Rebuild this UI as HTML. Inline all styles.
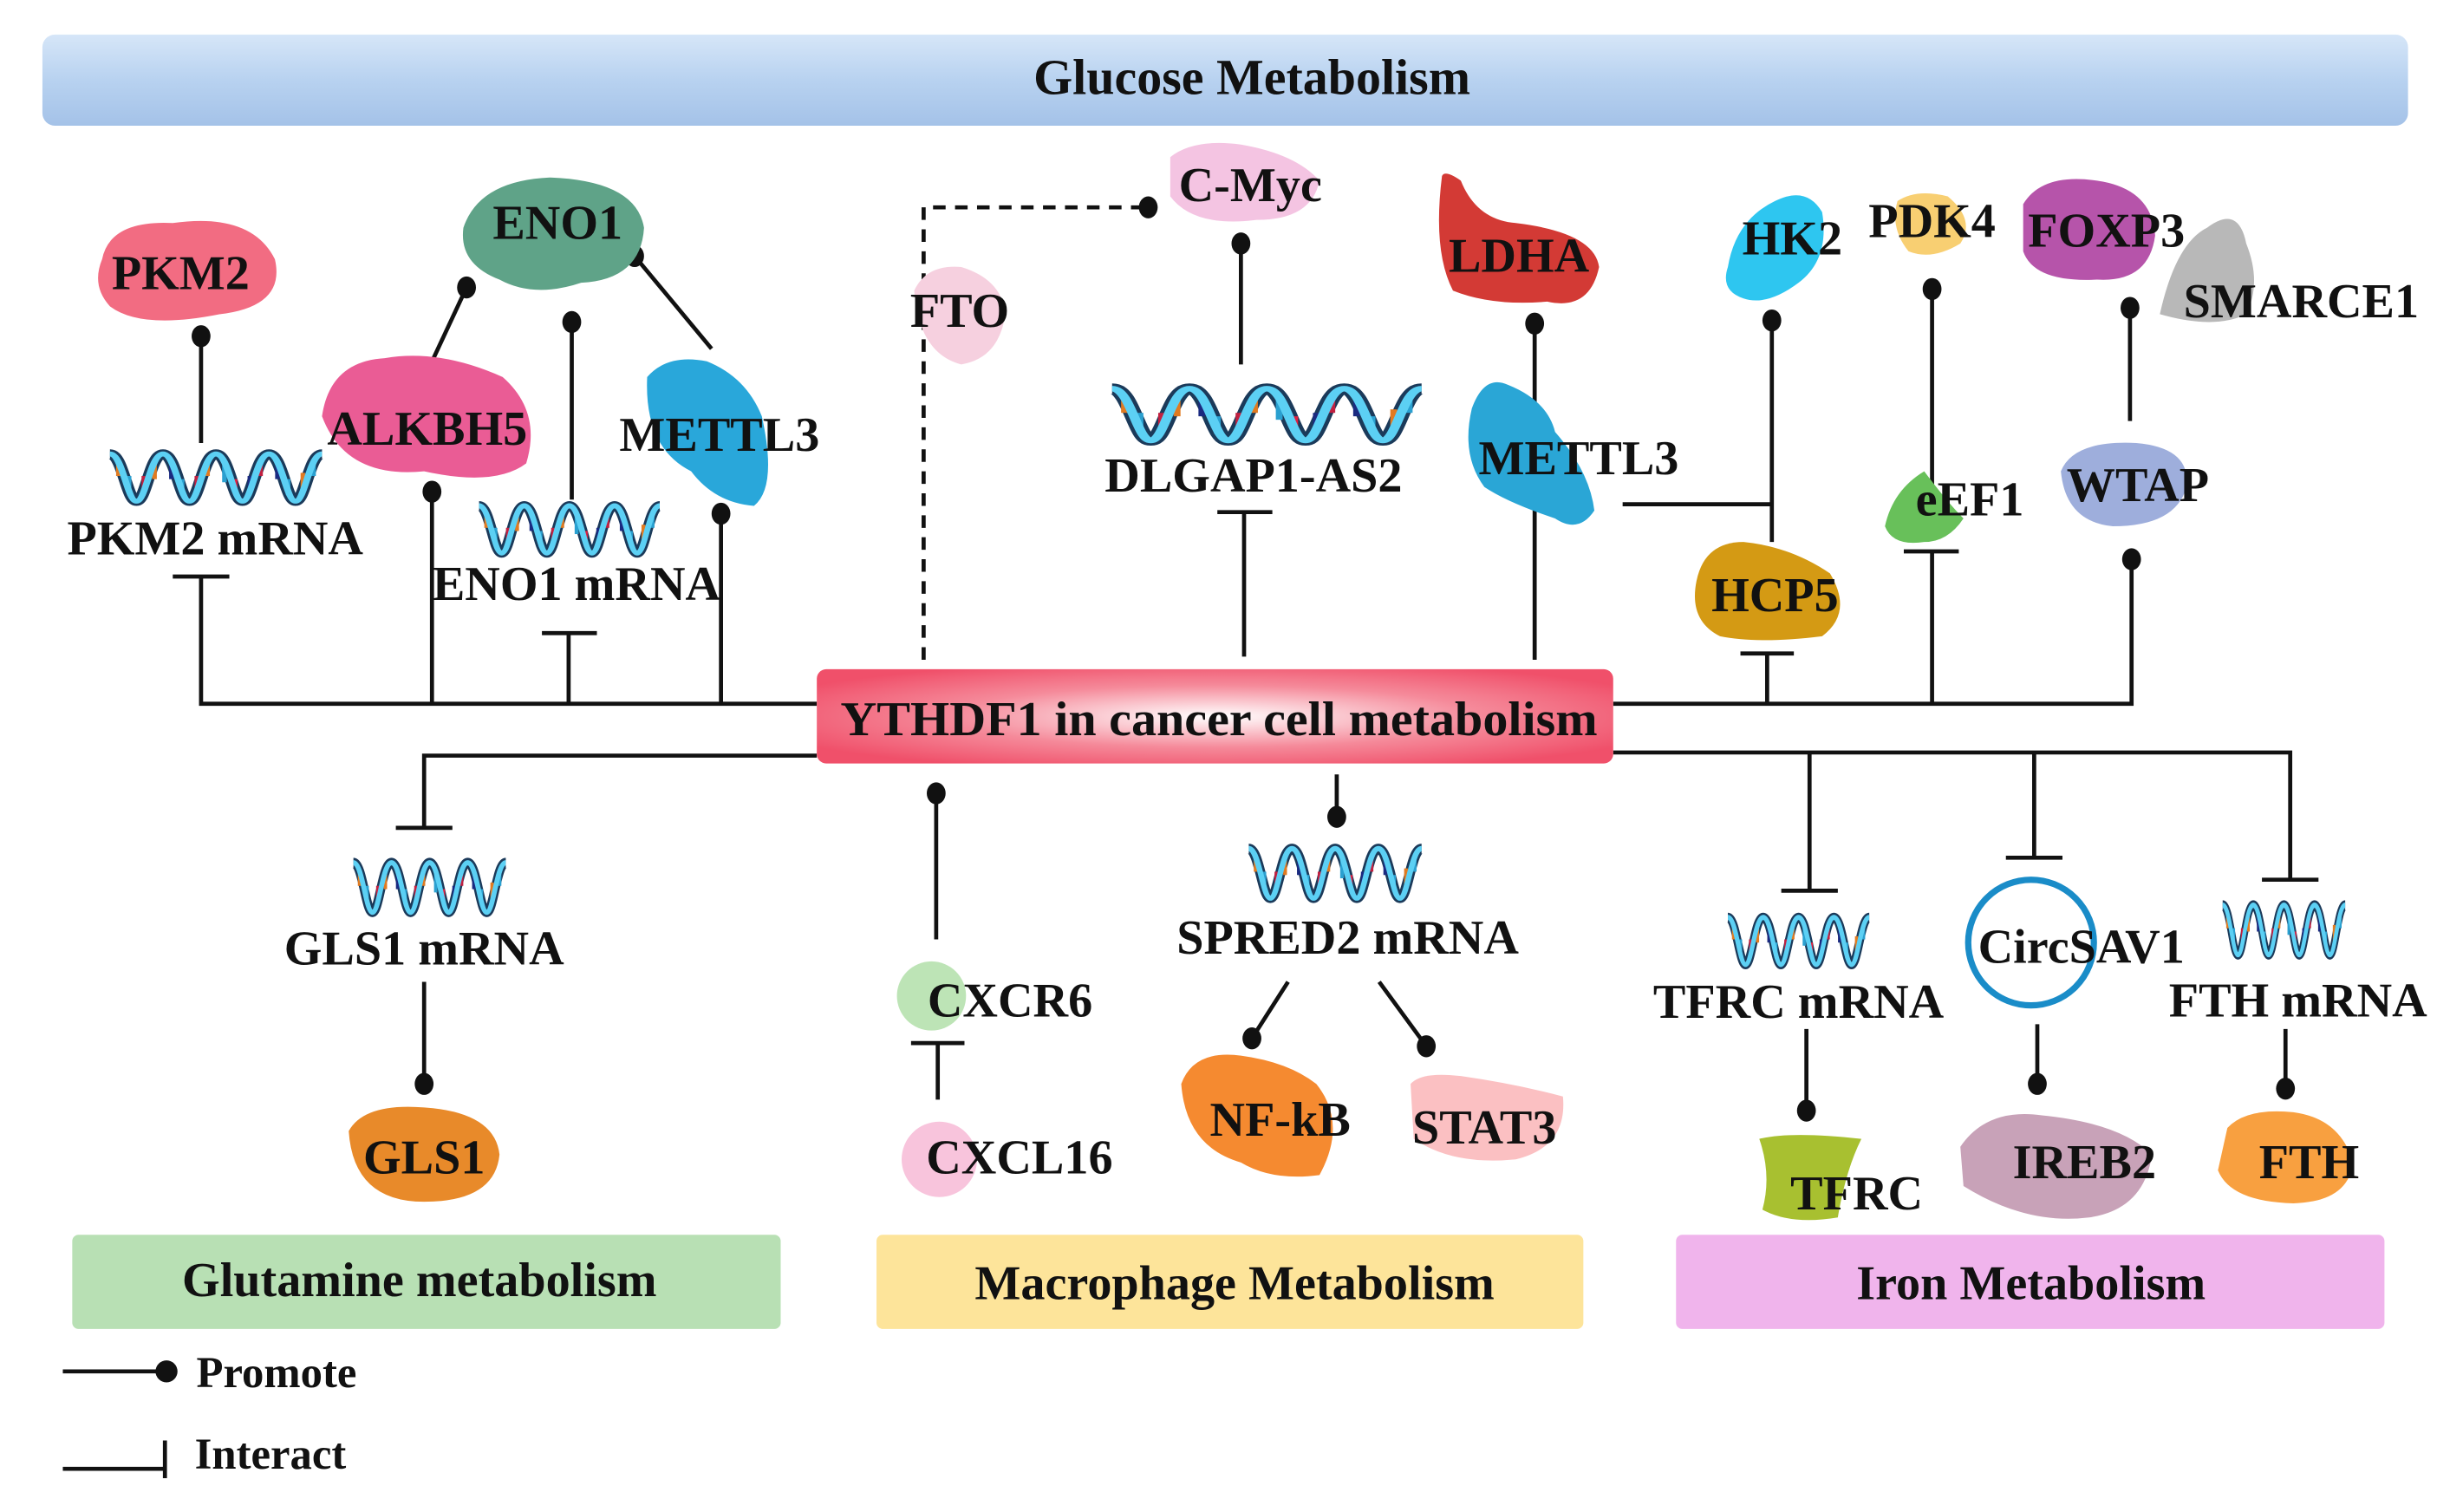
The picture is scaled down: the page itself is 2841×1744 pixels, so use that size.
<!DOCTYPE html>
<html><head><meta charset="utf-8"><style>
html,body{margin:0;padding:0;background:#fff;}
svg{display:block}
text{font-family:"Liberation Serif",serif;font-weight:bold;fill:#111;}
</style></head><body>
<svg width="2841" height="1744" viewBox="0 0 1568 962.5" preserveAspectRatio="none" xmlns="http://www.w3.org/2000/svg">
<defs>
<linearGradient id="ban" x1="0" y1="0" x2="0" y2="1"><stop offset="0" stop-color="#d6e6f8"/><stop offset="0.5" stop-color="#b8d2f0"/><stop offset="1" stop-color="#a4c2e8"/></linearGradient>
<radialGradient id="ctr" cx="0.5" cy="0.5" r="0.6"><stop offset="0" stop-color="#fff"/><stop offset="0.55" stop-color="#f58a9a"/><stop offset="1" stop-color="#f0506a"/></radialGradient>
<g id="dna">
<path d="M0 4 C6 4 8 34 12.5 34 C17 34 19 4 25 4 C31 4 33 34 37.5 34 C42 34 44 4 50 4 C56 4 58 34 62.5 34 C67 34 69 4 75 4 C81 4 83 34 87.5 34 C92 34 94 4 100 4" fill="none" stroke="#1b3a5a" stroke-width="6"/>
<g stroke-width="2.2">
<line x1="4" y1="10" x2="4" y2="18" stroke="#e07a20"/><line x1="9" y1="18" x2="9" y2="28" stroke="#2aa0d0"/><line x1="16" y1="18" x2="16" y2="28" stroke="#c02040"/><line x1="21" y1="10" x2="21" y2="20" stroke="#e07a20"/>
<line x1="29" y1="10" x2="29" y2="20" stroke="#1a2a80"/><line x1="34" y1="20" x2="34" y2="30" stroke="#2aa0d0"/><line x1="41" y1="18" x2="41" y2="30" stroke="#c02040"/><line x1="46" y1="8" x2="46" y2="18" stroke="#e07a20"/>
<line x1="54" y1="10" x2="54" y2="22" stroke="#2aa0d0"/><line x1="59" y1="20" x2="59" y2="30" stroke="#e02040"/><line x1="66" y1="18" x2="66" y2="28" stroke="#1a2a80"/><line x1="71" y1="8" x2="71" y2="18" stroke="#c02040"/>
<line x1="79" y1="10" x2="79" y2="20" stroke="#1a2a80"/><line x1="84" y1="20" x2="84" y2="30" stroke="#2aa0d0"/><line x1="91" y1="16" x2="91" y2="28" stroke="#e07a20"/><line x1="96" y1="8" x2="96" y2="18" stroke="#2aa0d0"/>
</g>
<path d="M0 4 C6 4 8 34 12.5 34 C17 34 19 4 25 4 C31 4 33 34 37.5 34 C42 34 44 4 50 4 C56 4 58 34 62.5 34 C67 34 69 4 75 4 C81 4 83 34 87.5 34 C92 34 94 4 100 4" fill="none" stroke="#5cd0f4" stroke-width="3.2"/>
</g>
</defs>

<rect x="27" y="22" width="1506" height="58" rx="8" fill="url(#ban)"/>
<text x="797" y="60" font-size="32" text-anchor="middle">Glucose Metabolism</text>

<rect x="46" y="786" width="451" height="60" rx="4" fill="#b8e0b4"/>
<text x="267" y="825" font-size="31" text-anchor="middle">Glutamine metabolism</text>
<rect x="558" y="786" width="450" height="60" rx="4" fill="#fde49a"/>
<text x="786" y="827" font-size="31" text-anchor="middle">Macrophage Metabolism</text>
<rect x="1067" y="786" width="451" height="60" rx="4" fill="#f0b4ec"/>
<text x="1293" y="827" font-size="31" text-anchor="middle">Iron Metabolism</text>

<g stroke="#111" stroke-width="2.6" fill="none">
<polyline points="128,367 128,448 520,448"/>
<line x1="110" y1="367" x2="146" y2="367"/>
<line x1="128" y1="214" x2="128" y2="282"/>
<line x1="275" y1="313" x2="275" y2="448"/>
<line x1="459" y1="327" x2="459" y2="448"/>
<line x1="362" y1="403" x2="362" y2="448"/><line x1="345" y1="403" x2="380" y2="403"/>
<line x1="364" y1="205" x2="364" y2="318"/>
<line x1="276" y1="228" x2="297" y2="183"/>
<line x1="404" y1="163" x2="453" y2="222"/>
<polyline points="588,420 588,132 731,132" stroke-dasharray="8,6"/>
<line x1="790" y1="155" x2="790" y2="232"/>
<line x1="792" y1="326" x2="792" y2="418"/><line x1="775" y1="326" x2="810" y2="326"/>
<line x1="977" y1="206" x2="977" y2="420"/>
<polyline points="1027,448 1357,448 1357,356"/>
<polyline points="1033,321 1128,321"/>
<line x1="1128" y1="204" x2="1128" y2="345"/>
<line x1="1125" y1="416" x2="1125" y2="448"/><line x1="1108" y1="416" x2="1142" y2="416"/>
<line x1="1230" y1="184" x2="1230" y2="315"/>
<line x1="1230" y1="351" x2="1230" y2="448"/><line x1="1212" y1="351" x2="1247" y2="351"/>
<line x1="1356" y1="196" x2="1356" y2="268"/>
<polyline points="520,481 270,481 270,527"/><line x1="252" y1="527" x2="288" y2="527"/>
<line x1="270" y1="625" x2="270" y2="690"/>
<line x1="596" y1="505" x2="596" y2="598"/>
<line x1="597" y1="664" x2="597" y2="700"/><line x1="580" y1="664" x2="614" y2="664"/>
<line x1="851" y1="493" x2="851" y2="520"/>
<line x1="820" y1="625" x2="797" y2="661"/><line x1="878" y1="625" x2="908" y2="666"/>
<polyline points="1027,479 1458,479 1458,560"/>
<line x1="1152" y1="479" x2="1152" y2="567"/><line x1="1134" y1="567" x2="1170" y2="567"/>
<line x1="1295" y1="479" x2="1295" y2="546"/><line x1="1277" y1="546" x2="1313" y2="546"/>
<line x1="1440" y1="560" x2="1476" y2="560"/>
<line x1="1150" y1="655" x2="1150" y2="707"/>
<line x1="1297" y1="652" x2="1297" y2="690"/>
<line x1="1455" y1="655" x2="1455" y2="693"/>
<line x1="40" y1="873" x2="106" y2="873"/>
<line x1="40" y1="935" x2="105" y2="935"/><line x1="105" y1="917" x2="105" y2="941"/>
</g>
<g fill="#111">
<ellipse cx="128" cy="214" rx="6" ry="7"/><ellipse cx="275" cy="313" rx="6" ry="7"/><ellipse cx="459" cy="327" rx="6" ry="7"/>
<ellipse cx="364" cy="205" rx="6" ry="7"/><ellipse cx="297" cy="183" rx="6" ry="7"/><ellipse cx="404" cy="163" rx="6" ry="7"/>
<ellipse cx="731" cy="132" rx="6" ry="7"/><ellipse cx="790" cy="155" rx="6" ry="7"/><ellipse cx="977" cy="206" rx="6" ry="7"/>
<ellipse cx="1128" cy="204" rx="6" ry="7"/><ellipse cx="1230" cy="184" rx="6" ry="7"/><ellipse cx="1356" cy="196" rx="6" ry="7"/>
<ellipse cx="1357" cy="356" rx="6" ry="7"/><ellipse cx="270" cy="690" rx="6" ry="7"/><ellipse cx="596" cy="505" rx="6" ry="7"/>
<ellipse cx="851" cy="520" rx="6" ry="7"/><ellipse cx="797" cy="661" rx="6" ry="7"/><ellipse cx="908" cy="666" rx="6" ry="7"/>
<ellipse cx="1150" cy="707" rx="6" ry="7"/><ellipse cx="1297" cy="690" rx="6" ry="7"/><ellipse cx="1455" cy="693" rx="6" ry="7"/>
<ellipse cx="106" cy="873" rx="7" ry="7"/>
</g>

<rect x="520" y="426" width="507" height="60" rx="6" fill="url(#ctr)"/>
<text x="776" y="468" font-size="31" text-anchor="middle" textLength="482" lengthAdjust="spacingAndGlyphs">YTHDF1 in cancer cell metabolism</text>

<path d="M65 165 Q70 140 110 142 Q160 135 175 165 Q182 195 140 200 Q90 210 70 195 Q58 182 65 165Z" fill="#f26c82"/>
<path d="M295 145 Q305 115 350 113 Q405 115 410 145 Q408 178 370 180 Q340 190 318 178 Q292 168 295 145Z" fill="#5fa388"/>
<path d="M205 265 Q210 230 245 228 Q280 222 320 240 Q345 262 335 295 Q315 310 270 300 Q220 305 205 265Z" fill="#ea5c95"/>
<path d="M412 240 Q425 225 450 230 Q475 240 485 265 Q495 310 480 322 Q455 320 440 300 Q410 285 412 240Z" fill="#29a7da"/>
<path d="M582 185 Q590 168 612 170 Q638 178 640 200 Q636 228 612 232 Q585 225 582 185Z" fill="#f6d0df"/>
<path d="M745 100 Q760 88 790 92 Q825 98 840 115 Q835 140 800 140 Q760 145 745 125Z" fill="#f4c4e2"/>
<path d="M918 112 Q920 108 930 115 Q940 140 965 142 Q1015 148 1018 170 Q1012 198 985 192 Q950 195 925 185 Q912 160 918 112Z" fill="#d33a35"/>
<path d="M937 260 Q945 238 960 245 Q985 255 990 275 Q1012 300 1015 325 Q1005 340 990 330 Q960 320 945 310 Q930 290 937 260Z" fill="#2aa6d6"/>
<path d="M1100 170 Q1105 140 1130 128 Q1150 118 1160 135 Q1165 165 1145 180 Q1125 195 1110 190 Q1095 185 1100 170Z" fill="#2ec6f0"/>
<path d="M1208 128 Q1220 120 1240 125 Q1258 140 1248 155 Q1230 166 1215 160 Q1203 145 1208 128Z" fill="#f8cf72"/>
<path d="M1288 130 Q1300 110 1335 115 Q1370 120 1372 150 Q1368 180 1335 178 Q1295 180 1288 160Z" fill="#b654aa"/>
<path d="M1375 200 Q1385 155 1405 145 Q1425 130 1430 155 Q1440 180 1430 200 Q1410 210 1375 200Z" fill="#b8b8b8"/>
<path d="M1080 370 Q1085 345 1110 345 Q1140 348 1165 365 Q1180 390 1160 405 Q1120 410 1095 405 Q1075 395 1080 370Z" fill="#d49a14"/>
<path d="M1200 335 Q1205 312 1225 300 Q1240 320 1250 330 Q1240 345 1225 345 Q1205 348 1200 335Z" fill="#68c05a"/>
<path d="M1312 300 Q1320 280 1360 282 Q1395 285 1392 310 Q1385 335 1345 335 Q1315 332 1312 300Z" fill="#9eaedc"/>
<path d="M222 720 Q232 702 270 705 Q315 708 318 735 Q315 765 270 765 Q225 765 222 720Z" fill="#e88a2a"/>
<circle cx="593" cy="634" r="22" fill="#bde4b6"/>
<circle cx="598" cy="738" r="24" fill="#f8c4dc"/>
<path d="M752 690 Q760 668 790 672 Q820 676 838 690 Q858 715 840 748 Q810 752 790 740 Q755 730 752 690Z" fill="#f58a30"/>
<path d="M898 690 Q905 682 930 685 Q965 690 995 698 Q998 730 965 738 Q925 742 900 725Z" fill="#fbc0c2"/>
<path d="M1120 725 Q1140 720 1185 725 Q1175 745 1170 775 Q1140 780 1122 770 Q1128 748 1120 725Z" fill="#a8c030"/>
<circle cx="1293" cy="600" r="40" fill="none" stroke="#1a8cc8" stroke-width="4"/>
<path d="M1248 730 Q1265 705 1300 710 Q1350 715 1370 735 Q1365 770 1330 775 Q1290 780 1250 755Z" fill="#c8a2b8"/>
<path d="M1418 718 Q1430 705 1460 708 Q1490 712 1498 740 Q1495 765 1460 766 Q1420 765 1412 745Z" fill="#f8a040"/>

<use href="#dna" transform="translate(70,285) scale(1.35,1)"/>
<use href="#dna" transform="translate(305,318) scale(1.15,1)"/>
<use href="#dna" transform="translate(708,243) scale(1.97,1.1)"/>
<use href="#dna" transform="translate(225,545) scale(0.97,1.05)"/>
<use href="#dna" transform="translate(795,536) scale(1.1,1.05)"/>
<use href="#dna" transform="translate(1100,580) scale(0.9,1)"/>
<use href="#dna" transform="translate(1415,572) scale(0.78,1.05)"/>

<g font-size="31" text-anchor="middle">
<text x="115" y="184">PKM2</text>
<text x="355" y="152">ENO1</text>
<text x="272" y="283">ALKBH5</text>
<text x="458" y="287">METTL3</text>
<text x="137" y="353">PKM2 mRNA</text>
<text x="367" y="382">ENO1 mRNA</text>
<text x="611" y="208">FTO</text>
<text x="796" y="128">C-Myc</text>
<text x="798" y="313">DLGAP1-AS2</text>
<text x="967" y="173">LDHA</text>
<text x="1005" y="302">METTL3</text>
<text x="1141" y="162">HK2</text>
<text x="1230" y="151">PDK4</text>
<text x="1341" y="157">FOXP3</text>
<text x="1465" y="202">SMARCE1</text>
<text x="1130" y="389">HCP5</text>
<text x="1254" y="328">eEF1</text>
<text x="1361" y="319">WTAP</text>
<text x="270" y="614">GLS1 mRNA</text>
<text x="270" y="747">GLS1</text>
<text x="643" y="647">CXCR6</text>
<text x="649" y="747">CXCL16</text>
<text x="858" y="607">SPRED2 mRNA</text>
<text x="815" y="723">NF-kB</text>
<text x="945" y="728">STAT3</text>
<text x="1145" y="648">TFRC mRNA</text>
<text x="1325" y="613">CircSAV1</text>
<text x="1463" y="647">FTH mRNA</text>
<text x="1182" y="770">TFRC</text>
<text x="1327" y="750">IREB2</text>
<text x="1470" y="750">FTH</text>
</g>
<text x="125" y="883" font-size="28">Promote</text>
<text x="124" y="935" font-size="28">Interact</text>
</svg>
</body></html>
